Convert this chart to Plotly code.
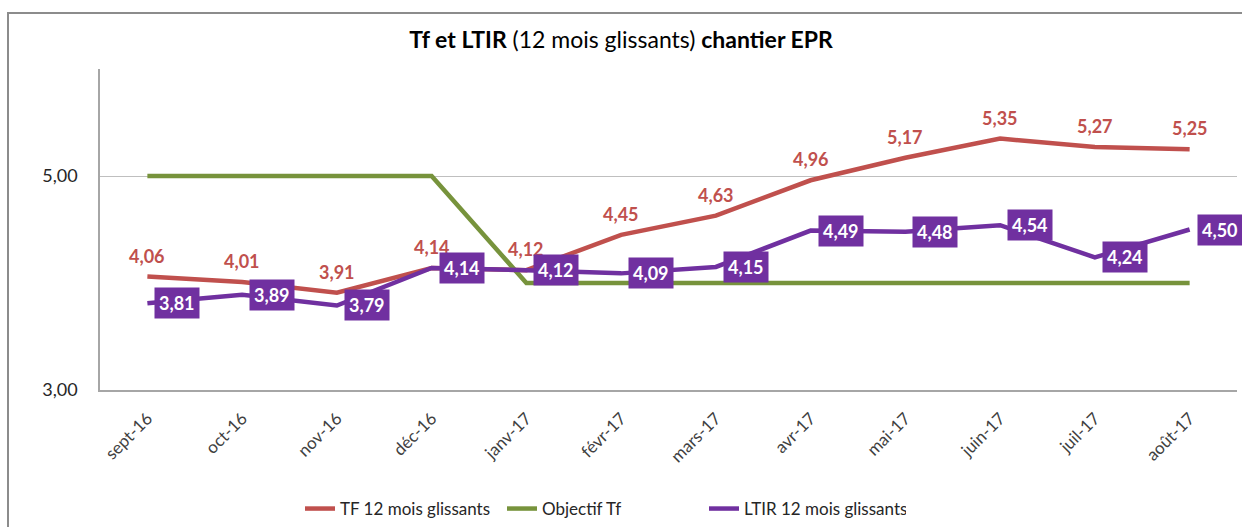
import plotly.graph_objects as go

months = ["sept-16", "oct-16", "nov-16", "déc-16", "janv-17", "févr-17",
          "mars-17", "avr-17", "mai-17", "juin-17", "juil-17", "août-17"]
tf_values = [4.06, 4.01, 3.91, 4.14, 4.12, 4.45, 4.63, 4.96, 5.17, 5.35, 5.27, 5.25]
objectif_values = [5, 5, 5, 5, 4, 4, 4, 4, 4, 4, 4, 4]
ltir_values = [3.81, 3.89, 3.79, 4.14, 4.12, 4.09, 4.15, 4.49, 4.48, 4.54, 4.24, 4.50]
y_ticks = [3, 5]
y_tick_labels = ["3,00", "5,00"]

RED = "#C0504D"
GREEN = "#77933C"
PURPLE = "#7030A0"
FONT = "Lato"

def fr(v):
    return f"{v:.2f}".replace(".", ",")

x_idx = list(range(len(months)))

fig = go.Figure()
fig.add_trace(go.Scatter(
    x=x_idx, y=tf_values, name="TF 12 mois glissants", mode="lines",
    line=dict(color=RED, width=4.5),
))
fig.add_trace(go.Scatter(
    x=x_idx, y=objectif_values, name="Objectif Tf", mode="lines",
    line=dict(color=GREEN, width=4.5),
))
fig.add_trace(go.Scatter(
    x=x_idx, y=ltir_values, name="LTIR 12 mois glissants", mode="lines",
    line=dict(color=PURPLE, width=4.5),
))

for xi, v in zip(x_idx, tf_values):
    fig.add_annotation(
        x=xi, y=v, text=f"<b>{fr(v)}</b>", showarrow=False,
        xanchor="center", yanchor="middle", yshift=21,
        font=dict(family=FONT, size=18, color=RED),
    )

for xi, v in zip(x_idx, ltir_values):
    fig.add_annotation(
        x=xi, y=v, text=f"<b>{fr(v)}</b>", showarrow=False,
        xanchor="left", xshift=7, yanchor="middle",
        bgcolor=PURPLE, borderpad=4,
        font=dict(family=FONT, size=18, color="white"),
    )

L, R, T, B = 100, 5, 69, 137
W, H = 1242, 527
pw, ph = W - L - R, H - T - B
fig.add_shape(type="rect", xref="paper", yref="paper",
              x0=(8 - L) / pw, x1=(W + 20 - L) / pw,
              y0=-(H + 20 - T - ph) / ph, y1=(H - 13 - B) / ph,
              line=dict(color="#8C8C8C", width=2), layer="below")

fig.update_layout(
    width=W, height=H,
    margin=dict(l=L, r=R, t=T, b=B, autoexpand=False),
    paper_bgcolor="white", plot_bgcolor="white",
    separators=", ",
    title=dict(
        text="<b>Tf et LTIR</b> (12 mois glissants) <b>chantier EPR</b>",
        x=0.5, xref="container", y=1 - 40 / H, yanchor="middle",
        font=dict(family=FONT, size=23, color="black"),
    ),
    xaxis=dict(
        tickmode="array", tickvals=x_idx, ticktext=months,
        range=[-0.5, len(months) - 0.5], tickangle=-45,
        showgrid=False, showline=True, linecolor="#A6A6A6", linewidth=1.5,
        ticks="outside", ticklen=10, tickcolor="rgba(0,0,0,0)", automargin=False,
        tickfont=dict(family=FONT, size=17, color="#404040"),
        zeroline=False,
    ),
    yaxis=dict(
        range=[3, 6], tickmode="array", tickvals=y_ticks, ticktext=y_tick_labels,
        showgrid=True, gridcolor="#BFBFBF", gridwidth=1.2,
        showline=True, linecolor="#A6A6A6", linewidth=1.5,
        ticks="outside", ticklen=17, tickcolor="rgba(0,0,0,0)", automargin=False,
        tickfont=dict(family=FONT, size=18, color="#262626"),
        zeroline=False,
    ),
    legend=dict(
        orientation="h", x=300 / W, xanchor="left", xref="container",
        y=1 - 509 / H, yanchor="middle", yref="container",
        font=dict(family=FONT, size=17, color="#262626"),
        itemwidth=30, traceorder="normal",
        entrywidth=157, entrywidthmode="pixels",
    ),
    showlegend=True,
)

fig.write_html("out.html", config={"displayModeBar": False},
               post_script="document.body.style.margin='0';")
